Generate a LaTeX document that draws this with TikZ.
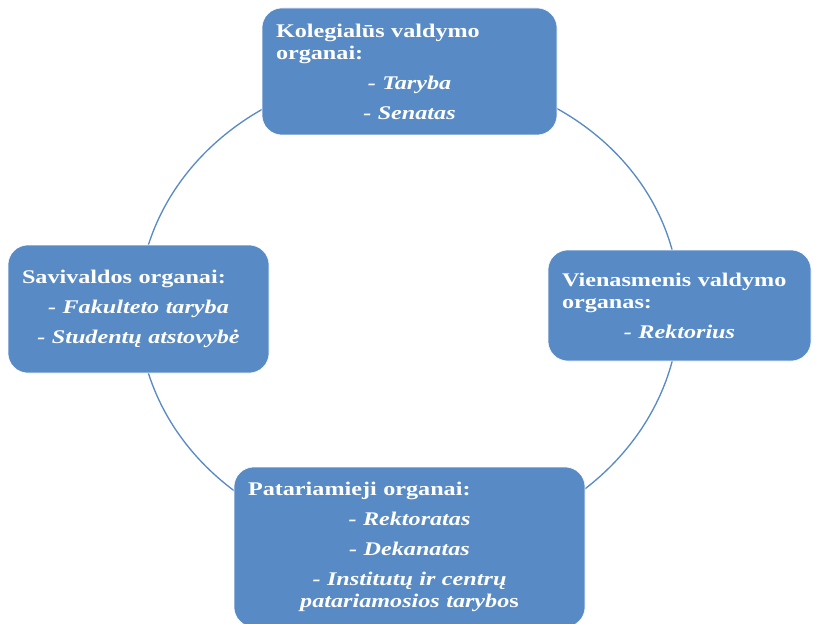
\documentclass[tikz,border=0pt]{standalone}
\usepackage{fontspec}
\setmainfont{Liberation Serif}[FakeStretch=1.25]
\usetikzlibrary{backgrounds}
\definecolor{organblue}{RGB}{88,139,197}
\newcommand{\punktas}[1]{\par\vspace{6pt}{\centering\itshape - #1\par}}

\begin{document}
\begin{tikzpicture}[x=0.75pt,y=-0.75pt]
  \tikzstyle{organ}=[rectangle,rounded corners=15pt,draw=white,thin,fill=organblue,
              text=white,inner sep=0pt,align=left,
              font=\bfseries\fontsize{14.5}{16.5}\selectfont]
  \tikzstyle{ring}=[draw=organblue,line width=1pt]
    \useasboundingbox (0,0) rectangle (813,624);
    \node [organ,minimum width=221.25pt,minimum height=95.25pt,text width=200.25pt] (kolegialus) at (409.5,71.5)
      {Kolegialūs valdymo\\ organai:\punktas{Taryba}\punktas{Senatas}};
    \node [organ,minimum width=195.75pt,minimum height=96pt,text width=174.75pt] (savivaldos) at (138.5,309)
      {Savivaldos organai:\punktas{Fakulteto taryba}\punktas{Studentų atstovybė}};
    \node [organ,minimum width=197.25pt,minimum height=83.25pt,text width=176.25pt] (vienasmenis) at (679.5,305.5)
      {Vienasmenis valdymo\\ organas:\punktas{Rektorius}};
    \node [organ,minimum width=263.25pt,minimum height=120pt,text width=242.25pt] (patariamieji) at (409.5,547)
      {Patariamieji organai:\punktas{Rektoratas}\punktas{Dekanatas}%
       \punktas{Institutų ir centrų\\ patariamosios tarybo\textup{s}}};
    \begin{scope}[on background layer]
      \draw [ring] (kolegialus.center) .. controls +(-151,0) and +(0,-131) .. (savivaldos.center);
      \draw [ring] (savivaldos.center) .. controls +(0,131) and +(-151,0) .. (patariamieji.center);
      \draw [ring] (patariamieji.center) .. controls +(151,0) and +(0,131) .. (vienasmenis.center);
      \draw [ring] (vienasmenis.center) .. controls +(0,-131) and +(151,0) .. (kolegialus.center);
    \end{scope}
\end{tikzpicture}
\end{document}
